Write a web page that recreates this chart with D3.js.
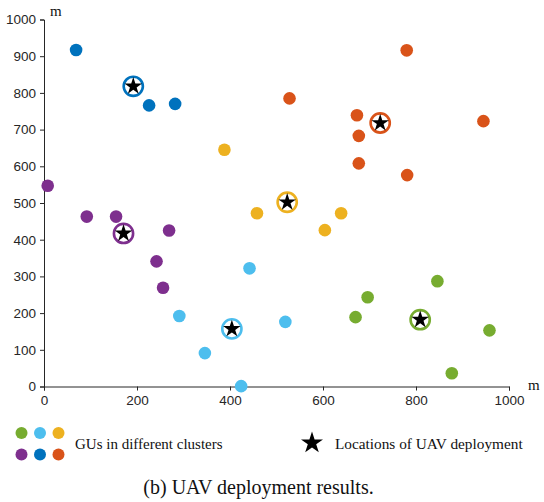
<!DOCTYPE html>
<html lang="en">
<head>
<meta charset="UTF-8">
<title>UAV deployment results</title>
<script src="https://d3js.org/d3.v7.min.js"></script>
<style>
    body { margin: 0; background: #fff; }
    svg { display: block; }
    .tick text { font-family: "Liberation Sans", Arial, sans-serif; font-size: 13.5px; fill: #262626; }
    .serif { font-family: "Liberation Serif", "Times New Roman", serif; fill: #111; }
</style>
</head>
<body>
<svg id="chart" width="544" height="502"></svg>
<script>
// cluster colours (MATLAB default order)
const clusterNames = ["blue", "orange", "yellow", "purple", "green", "lightblue"];
const clusterColors = ["#0072BD", "#D95319", "#EDB120", "#7E2F8E", "#77AC30", "#4DBEEE"];

// GU positions per cluster (m)
const blueX = [69, 226, 282];
const blueY = [917, 766, 770];
const orangeX = [780, 528, 673, 677, 945, 677, 781];
const orangeY = [916, 785, 739, 683, 723, 608, 576];
const yellowX = [388, 458, 639, 604];
const yellowY = [645, 472, 472, 426];
const purpleX = [8, 92, 155, 269, 242, 256];
const purpleY = [547, 463, 463, 425, 341, 269];
const greenX = [846, 696, 670, 958, 877];
const greenY = [287, 243, 189, 153, 36];
const lightblueX = [291, 346, 424, 442, 519];
const lightblueY = [192, 91, 1, 322, 176];

// UAV locations, one per cluster in the same order
const uavX = [192, 723, 523, 171, 809, 404];
const uavY = [818, 718, 502, 417, 182, 157];

const xTicks = [0, 200, 400, 600, 800, 1000];
const yTicks = [0, 100, 200, 300, 400, 500, 600, 700, 800, 900, 1000];

const gus = [
    [blueX, blueY], [orangeX, orangeY], [yellowX, yellowY],
    [purpleX, purpleY], [greenX, greenY], [lightblueX, lightblueY]
];

const svg = d3.select("#chart");
const x = d3.scaleLinear().domain([0, 1000]).range([44, 509]);
const y = d3.scaleLinear().domain([0, 1000]).range([386.5, 19.5]);

const axisColor = "#262626";

const xAxis = svg.append("g")
    .attr("transform", "translate(0,386.5)")
    .call(d3.axisBottom(x).tickValues(xTicks).tickFormat(d3.format("d")).tickSize(4).tickPadding(5));
const yAxis = svg.append("g")
    .attr("transform", "translate(44,0)")
    .call(d3.axisLeft(y).tickValues(yTicks).tickFormat(d3.format("d")).tickSize(4).tickPadding(4));
[xAxis, yAxis].forEach(a => {
    a.select(".domain").attr("stroke", axisColor).attr("stroke-width", 1);
    a.selectAll(".tick line").attr("stroke", axisColor);
});

svg.append("text").attr("class", "serif")
    .attr("x", 50).attr("y", 16).attr("font-size", 15).text("m");
svg.append("text").attr("class", "serif")
    .attr("x", 528).attr("y", 390).attr("font-size", 15).text("m");

// GU dots
gus.forEach(([xs, ys], i) => {
    svg.append("g").selectAll("circle")
        .data(xs.map((v, j) => [v, ys[j]]))
        .join("circle")
        .attr("cx", d => x(d[0]))
        .attr("cy", d => y(d[1]))
        .attr("r", 6.3)
        .attr("fill", clusterColors[i]);
});

const star = d3.symbol().type(d3.symbolStar);

// UAV rings + stars
const uav = svg.append("g").selectAll("g")
    .data(uavX.map((v, i) => ({x: v, y: uavY[i], c: clusterColors[i]})))
    .join("g")
    .attr("transform", d => `translate(${x(d.x)},${y(d.y)})`);
uav.append("circle")
    .attr("r", 9.6)
    .attr("fill", "#fff")
    .attr("stroke", d => d.c)
    .attr("stroke-width", 2.6);
uav.append("path")
    .attr("d", star.size(95)())
    .attr("fill", "#000");

// legend
const legendCols = [21.5, 40, 58.5];
const legendRows = [433, 454.5];
const legendOrder = [[4, 5, 2], [3, 0, 1]];
legendOrder.forEach((row, r) => {
    row.forEach((ci, c) => {
        svg.append("circle")
            .attr("cx", legendCols[c]).attr("cy", legendRows[r])
            .attr("r", 6).attr("fill", clusterColors[ci]);
    });
});
svg.append("text").attr("class", "serif")
    .attr("x", 75).attr("y", 449).attr("font-size", 15)
    .text("GUs in different clusters");
svg.append("path")
    .attr("transform", "translate(312,443)")
    .attr("d", star.size(150)())
    .attr("fill", "#000");
svg.append("text").attr("class", "serif")
    .attr("x", 335).attr("y", 449).attr("font-size", 15.3)
    .text("Locations of UAV deployment");

// caption
svg.append("text").attr("class", "serif")
    .attr("x", 258.5).attr("y", 494).attr("font-size", 20)
    .attr("text-anchor", "middle")
    .text("(b) UAV deployment results.");
</script>
</body>
</html>
